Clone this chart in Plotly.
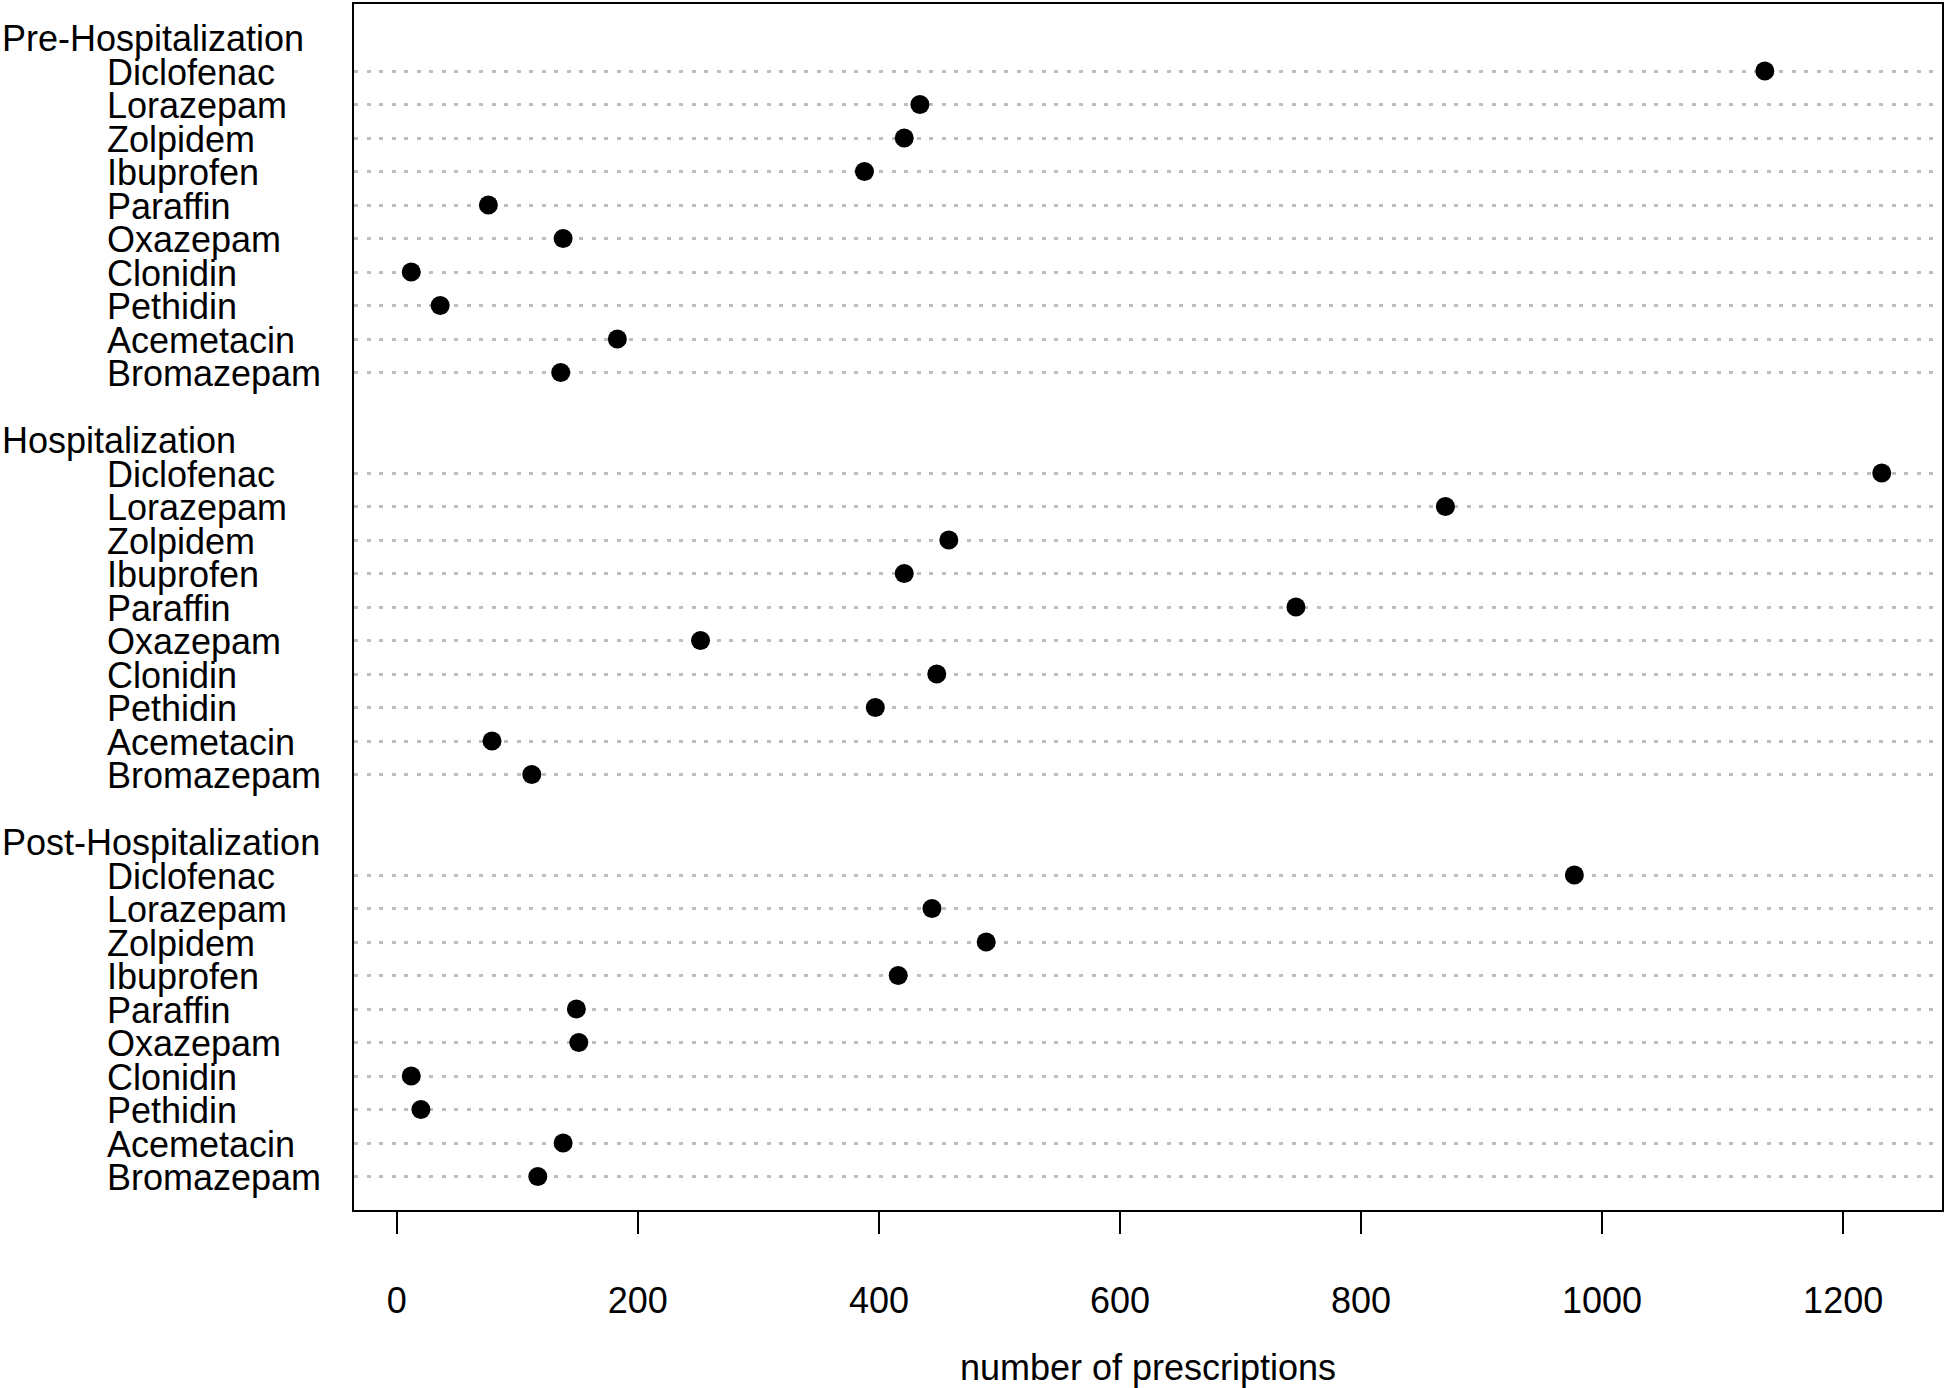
import plotly.graph_objects as go

# drug order within each period (top to bottom)
drugs = ['Diclofenac', 'Lorazepam', 'Zolpidem', 'Ibuprofen', 'Paraffin',
         'Oxazepam', 'Clonidin', 'Pethidin', 'Acemetacin', 'Bromazepam']
periods = ['Pre-Hospitalization', 'Hospitalization', 'Post-Hospitalization']

pre_values = [1135, 434, 421, 388, 76, 138, 12, 36, 183, 136]
hosp_values = [1232, 870, 458, 421, 746, 252, 448, 397, 79, 112]
post_values = [977, 444, 489, 416, 149, 151, 12, 20, 138, 117]

x_ticks = [0, 200, 400, 600, 800, 1000, 1200]

FONT = 'Liberation Sans, Arial, sans-serif'
W, H = 1946, 1388
ML, MR, MT, MB = 354, 2, 3, 178

# dotchart-style layout: groups stacked bottom-up, 2 empty slots per group
n = len(drugs)
group_vals = [pre_values, hosp_values, post_values]
xs, ys, item_y, group_y = [], [], [], []
for gi, vals in enumerate(group_vals):
    base = (len(periods) - 1 - gi) * (n + 2)
    for i, v in enumerate(vals):
        y = base + n - i
        xs.append(v)
        ys.append(y)
        item_y.append((drugs[i], y))
    group_y.append((periods[gi], base + n + 1))

fig = go.Figure()
fig.add_trace(go.Scatter(
    x=xs, y=ys, mode='markers',
    marker=dict(color='black', size=19, line=dict(width=0)),
    showlegend=False, hoverinfo='x+y'))

plot_w = W - ML - MR
annotations = []
for name, y in item_y:
    annotations.append(dict(text=name, x=(105 - ML) / plot_w, xref='paper', y=y, yref='y',
                            xanchor='left', yanchor='middle', showarrow=False, yshift=-1,
                            font=dict(family=FONT, size=36, color='black')))
for name, y in group_y:
    annotations.append(dict(text=name, x=(0 - ML) / plot_w, xref='paper', y=y, yref='y',
                            xanchor='left', yanchor='middle', showarrow=False, yshift=-1,
                            font=dict(family=FONT, size=36, color='black')))

fig.update_layout(
    width=W, height=H,
    margin=dict(l=ML, r=MR, t=MT, b=MB),
    plot_bgcolor='white', paper_bgcolor='white',
    font=dict(family=FONT, size=36, color='black'),
    annotations=annotations,
    xaxis=dict(
        range=[-35.5, 1282], tickvals=x_ticks, ticks='outside', ticklen=22, tickwidth=2,
        tickcolor='black', showline=True, linecolor='black', linewidth=2, mirror=True,
        showgrid=False, zeroline=False, ticklabelstandoff=36,
        title=dict(text='number of prescriptions', standoff=40,
                   font=dict(family=FONT, size=36))),
    yaxis=dict(
        range=[0, 36], tickvals=[y for _, y in item_y], showticklabels=False, ticks='',
        showline=True, linecolor='black', linewidth=2, mirror=True,
        showgrid=True, gridcolor='#BEBEBE', gridwidth=2.5, griddash='4px,8.5px',
        zeroline=False),
)

fig.write_html('out.html', config={'displayModeBar': False},
               post_script="document.body.style.margin='0';")
